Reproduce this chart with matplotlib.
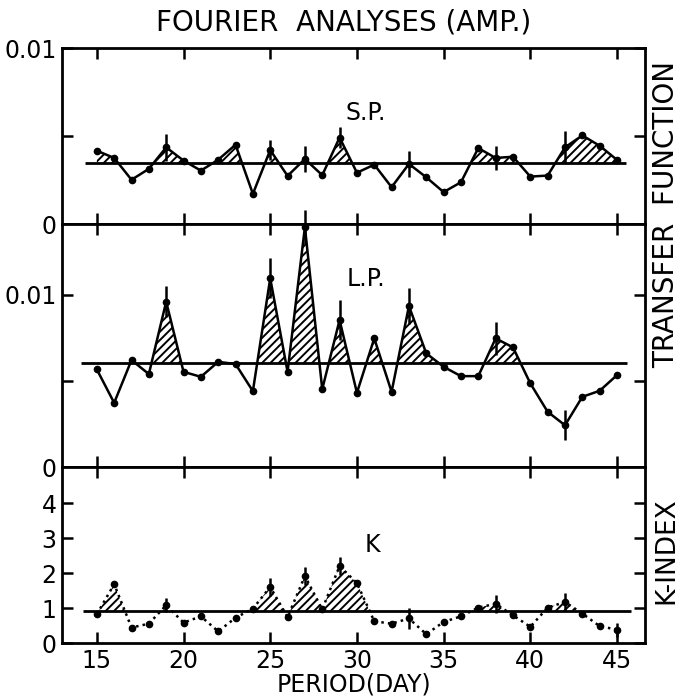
"""
Fourier analyses (amplitude) of the transfer functions S.P., L.P. and the K-index
against period in days, drawn as three stacked panels.
"""

import matplotlib.pyplot as plt

plt.rcParams['font.family'] = ['DejaVu Sans']
plt.rcParams['hatch.linewidth'] = 1.4

PERIODS = list(range(15, 46))

SP_AMP = [0.00418, 0.00377, 0.00253, 0.00315, 0.00437, 0.00362, 0.00305, 0.00367,
          0.00452, 0.00173, 0.00422, 0.00275, 0.00371, 0.00279, 0.00493, 0.00293,
          0.00339, 0.00211, 0.00343, 0.00267, 0.00183, 0.00239, 0.00433, 0.00377,
          0.00384, 0.00271, 0.00277, 0.00437, 0.00505, 0.00446, 0.00366]
SP_MEAN = 0.00348
SP_ERR_AT = [19, 25, 27, 29, 33, 38, 42]
SP_ERR = [0.00076, 0.00057, 0.00076, 0.0006, 0.00076, 0.00068, 0.00091]

LP_AMP = [0.00568, 0.00374, 0.00622, 0.00541, 0.00961, 0.00554, 0.00525, 0.00612,
          0.00599, 0.00442, 0.01097, 0.00554, 0.01394, 0.00453, 0.00855, 0.00432,
          0.00748, 0.00438, 0.00936, 0.00661, 0.00583, 0.00529, 0.00529, 0.00748,
          0.00696, 0.00487, 0.00322, 0.00244, 0.00409, 0.00444, 0.00535]
LP_MEAN = 0.00603
LP_ERR_AT = [19, 25, 27, 29, 33, 38, 42]
LP_ERR = [0.00091, 0.00116, 0.001, 0.00116, 0.00103, 0.00097, 0.00087]

K_INDEX = [0.83, 1.69, 0.45, 0.56, 1.09, 0.59, 0.77, 0.34, 0.73, 0.99, 1.61,
           0.75, 1.92, 0.97, 2.21, 1.72, 0.63, 0.56, 0.71, 0.26, 0.61, 0.77,
           1.02, 1.13, 0.80, 0.47, 1.02, 1.18, 0.85, 0.49, 0.39]
K_MEAN = 0.93
K_ERR_AT = [19, 25, 27, 29, 33, 38, 42, 45]
K_ERR = [0.2, 0.27, 0.25, 0.25, 0.3, 0.25, 0.25, 0.2]

FS = 17


def draw_panel(ax, values, mean, err_at, err, linestyle, name, name_xy, mean_span):
    """One panel: hatched area above the mean, the series, error bars and the mean line."""
    ax.fill_between(PERIODS, values, mean, where=[v > mean for v in values],
                    interpolate=True, facecolor='none', edgecolor='black',
                    hatch='////', linewidth=0)
    ax.hlines(mean, mean_span[0], mean_span[1], color='black', linewidth=2)
    ax.plot(PERIODS, values, color='black', linestyle=linestyle, linewidth=1.8,
            marker='o', markersize=4.5)
    err_vals = [values[PERIODS.index(p)] for p in err_at]
    bars = ax.errorbar(err_at, err_vals, yerr=err, fmt='none', ecolor='black',
                       elinewidth=1.8, capsize=0)
    for coll in bars.lines[2]:
        coll.set_clip_on(False)
    ax.text(name_xy[0], name_xy[1], name, fontsize=FS, ha='center', va='center')


def style_axes(ax, ylim, yticks, ylabels):
    ax.set_xlim(13, 46.6)
    ax.set_ylim(*ylim)
    ax.set_xticks([15, 20, 25, 30, 35, 40, 45])
    ax.set_yticks(yticks)
    ax.set_yticklabels(ylabels)
    ax.tick_params(direction='in', length=8, width=1.8, top=True, right=True,
                   labelsize=FS, pad=4)
    for spine in ax.spines.values():
        spine.set_linewidth(2)


fig = plt.figure(figsize=(6.83, 7.0), dpi=100)
gs = fig.add_gridspec(3, 1, height_ratios=[176, 243, 176], hspace=0,
                      left=0.091, right=0.944, top=0.931, bottom=0.081)
ax_sp = fig.add_subplot(gs[0])
ax_lp = fig.add_subplot(gs[1], sharex=ax_sp)
ax_k = fig.add_subplot(gs[2], sharex=ax_sp)

draw_panel(ax_sp, SP_AMP, SP_MEAN, SP_ERR_AT, SP_ERR, '-', 'S.P.', (30.5, 0.0063), (14.3, 45.5))
draw_panel(ax_lp, LP_AMP, LP_MEAN, LP_ERR_AT, LP_ERR, '-', 'L.P.', (30.5, 0.0109), (14.1, 45.6))
draw_panel(ax_k, K_INDEX, K_MEAN, K_ERR_AT, K_ERR, ':', 'K', (30.9, 2.8), (14.2, 45.8))

style_axes(ax_sp, (0, 0.01), [0, 0.005, 0.01], ['0', '', '0.01'])
style_axes(ax_lp, (0, 0.0141), [0, 0.005, 0.01], ['0', '', '0.01'])
style_axes(ax_k, (0, 5.03), [0, 1, 2, 3, 4], ['0', '1', '2', '3', '4'])
ax_sp.tick_params(labelbottom=False)
ax_lp.tick_params(labelbottom=False)

ax_k.set_xlabel('PERIOD(DAY)', fontsize=FS, labelpad=0)
fig.text(0.503, 0.968, 'FOURIER  ANALYSES (AMP.)', fontsize=20, ha='center', va='center')
fig.text(0.975, 0.693, 'TRANSFER  FUNCTION', fontsize=20, rotation=90, ha='center', va='center')
fig.text(0.975, 0.214, 'K-INDEX', fontsize=19, rotation=90, ha='center', va='center')

plt.savefig('out.png', dpi=100)
